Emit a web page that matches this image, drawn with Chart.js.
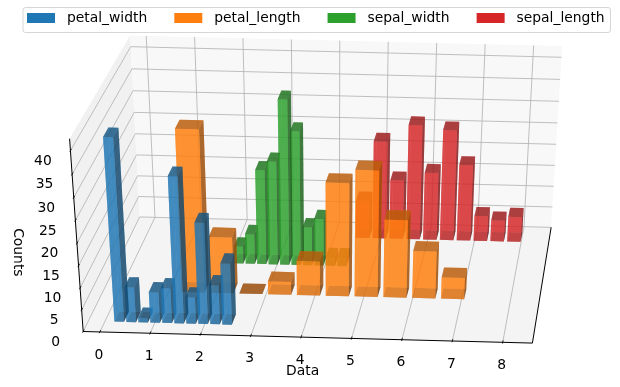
<!DOCTYPE html>
<html><head><meta charset="utf-8">
<style>html,body{margin:0;padding:0;background:#fff}canvas{display:block}</style>
<script src="https://cdn.jsdelivr.net/npm/chart.js@4/dist/chart.umd.min.js"></script>
</head><body><canvas id="c" width="620" height="387"></canvas>
<script>
// ---- data ----
const seriesNames = ['petal_width','petal_length','sepal_width','sepal_length'];
const seriesColors = ['#1f77b4','#ff7f0e','#2ca02c','#d62728'];
const petalWidthBins  = [0.19,0.43,0.67,0.91,1.15,1.39,1.63,1.87,2.11,2.35];
const petalWidthCounts= [41,8,1,7,8,33,6,23,9,14];
const petalLengthBins = [1.27,1.86,2.45,3.04,3.63,4.22,4.81,5.40,5.99,6.58];
const petalLengthCounts=[37,13,0,3,8,26,29,18,11,5];
const sepalWidthBins  = [2.1,2.34,2.58,2.82,3.06,3.3,3.54,3.78,4.02,4.26];
const sepalWidthCounts= [4,7,22,24,38,31,9,11,2,2];
const sepalLengthBins = [4.46,4.82,5.18,5.54,5.90,6.26,6.62,6.98,7.34,7.70];
const sepalLengthCounts=[9,23,14,27,16,26,18,6,5,6];
const seriesBins = [petalWidthBins,petalLengthBins,sepalWidthBins,sepalLengthBins];
const seriesCounts = [petalWidthCounts,petalLengthCounts,sepalWidthCounts,sepalLengthCounts];
const seriesDepths = [0,1,2,3];
const barWidths = [0.192,0.472,0.192,0.288];
const xTickLabels = [0,1,2,3,4,5,6,7,8];
const zTickLabels = [0,5,10,15,20,25,30,35,40];
const xTitle = 'Data', zTitle = 'Counts';

// ---- view: where the unit box of the 3D axes lands on the page ----
const BOX = [
  [0,0,0, 83.3,331.7,4],[1,0,0, 532.3,343,3],[1,1,0, 551.3,227.7,2],[0,1,0, 139.3,216,2],
  [0,0,1, 69.5,138.5,3],[0,1,1, 130.7,38.3,1],[1,1,1, 562.3,46,2]
];
const X_RANGE=[-0.332,8.588], Z_RANGE=[0,42.5], DEPTH_RANGE=[-0.33,3.55], BAR_DEPTH=0.33, ALPHA=0.6;
const SHADE={front:1,left:1,back:1,top:0.62,bottom:0.52,right:0.45};

function solveCamera(pts){
  const S=500,n=11;
  let p=null;
  for(let iter=0;iter<8;iter++){
    const A=[],b=[];
    for(const [X,Y,Z,px,py,wt] of pts){
      const u=px/S,v=py/S;
      const w=p?(p[8]*X+p[9]*Y+p[10]*Z+1):1,k=wt/w;
      A.push([X,Y,Z,1,0,0,0,0,-u*X,-u*Y,-u*Z].map(a=>a*k)); b.push(u*k);
      A.push([0,0,0,0,X,Y,Z,1,-v*X,-v*Y,-v*Z].map(a=>a*k)); b.push(v*k);
    }
    const M=[];
    for(let i=0;i<n;i++){M.push(new Array(n+1).fill(0));
      for(let j=0;j<n;j++)for(let r=0;r<A.length;r++)M[i][j]+=A[r][i]*A[r][j];
      for(let r=0;r<A.length;r++)M[i][n]+=A[r][i]*b[r];}
    for(let i=0;i<n;i++){let q=i;for(let r=i+1;r<n;r++)if(Math.abs(M[r][i])>Math.abs(M[q][i]))q=r;
      [M[i],M[q]]=[M[q],M[i]];
      for(let r=0;r<n;r++)if(r!==i){const f=M[r][i]/M[i][i];for(let c=i;c<=n;c++)M[r][c]-=f*M[i][c];}}
    p=M.map((row,i)=>row[n]/row[i]);
  }
  return (X,Y,Z)=>{const w=p[8]*X+p[9]*Y+p[10]*Z+1;
    return {x:S*(p[0]*X+p[1]*Y+p[2]*Z+p[3])/w,y:S*(p[4]*X+p[5]*Y+p[6]*Z+p[7])/w,w};};
}
const camera=solveCamera(BOX);
const farSign=Math.sign(camera(0,1,0).w-camera(0,0,0).w)||1;

// values -> unit box, through the chart's scales
function toUnit(chart,xv,dv,zv){
  const {x:sx,y:sy,depth:sd}=chart.scales;
  return [(sx.getPixelForValue(xv)-sx.left)/sx.width,
          (sd.getPixelForValue(dv)-sd.left)/sd.width,
          (sy.bottom-sy.getPixelForValue(zv))/sy.height];
}
function proj(chart,xv,dv,zv){const u=toUnit(chart,xv,dv,zv);return camera(u[0],u[1],u[2]);}
function rgb(hex){return [1,3,5].map(i=>parseInt(hex.substr(i,2),16));}

class Bar3DController extends Chart.BarController{
  draw(){
    const chart=this.chart,ctx=chart.ctx,ds=this.getDataset(),meta=this.getMeta();
    const c=rgb(ds.baseColor),faces=[];
    for(let i=0;i<meta.data.length;i++){
      const p=this.getParsed(i),x0=p.x,x1=p.x+ds.barWidth,d0=ds.depth,d1=ds.depth+BAR_DEPTH,z0=0,z1=p.y;
      const add=(name,q)=>{const v=q.map(a=>proj(chart,a[0],a[1],a[2]));
        faces.push({name,v,w:v.reduce((s,a)=>s+a.w,0)/4*farSign});};
      add('bottom',[[x0,d0,z0],[x1,d0,z0],[x1,d1,z0],[x0,d1,z0]]);
      add('top',[[x0,d0,z1],[x1,d0,z1],[x1,d1,z1],[x0,d1,z1]]);
      add('front',[[x0,d0,z0],[x1,d0,z0],[x1,d0,z1],[x0,d0,z1]]);
      add('back',[[x0,d1,z0],[x1,d1,z0],[x1,d1,z1],[x0,d1,z1]]);
      add('left',[[x0,d0,z0],[x0,d1,z0],[x0,d1,z1],[x0,d0,z1]]);
      add('right',[[x1,d0,z0],[x1,d1,z0],[x1,d1,z1],[x1,d0,z1]]);
    }
    faces.sort((a,b)=>b.w-a.w);
    ctx.save();
    for(const f of faces){
      const k=SHADE[f.name];
      ctx.fillStyle=`rgba(${c[0]*k},${c[1]*k},${c[2]*k},${ALPHA})`;
      ctx.beginPath();f.v.forEach((a,i)=>i?ctx.lineTo(a.x,a.y):ctx.moveTo(a.x,a.y));ctx.closePath();ctx.fill();
    }
    ctx.restore();
  }
}
Bar3DController.id='bar3d';
Bar3DController.defaults=Chart.BarController.defaults;
Chart.register(Bar3DController);

const FONT='"DejaVu Sans"',FS=13.89;
function poly(ctx,pts,fill){ctx.fillStyle=fill;ctx.beginPath();pts.forEach((a,i)=>i?ctx.lineTo(a.x,a.y):ctx.moveTo(a.x,a.y));ctx.closePath();ctx.fill();}
function seg(ctx,a,b,col,lw){ctx.strokeStyle=col;ctx.lineWidth=lw;ctx.beginPath();ctx.moveTo(a.x,a.y);ctx.lineTo(b.x,b.y);ctx.stroke();}

const axes3D={id:'axes3D',
  beforeDraw(chart){
    const ctx=chart.ctx;ctx.save();
    ctx.fillStyle='#fff';ctx.fillRect(0,0,chart.width,chart.height);
    ctx.strokeStyle='rgba(204,204,204,0.8)';ctx.lineWidth=1;
    ctx.beginPath();ctx.roundRect(23,7.5,587.5,25,2.5);ctx.stroke();
    ctx.restore();
  },
  beforeDatasetsDraw(chart){
    const ctx=chart.ctx;ctx.save();
    const [x0,x1]=X_RANGE,[d0,d1]=DEPTH_RANGE,[z0,z1]=Z_RANGE;
    const P=(a,b,c)=>proj(chart,a,b,c);
    poly(ctx,[P(x0,d0,z0),P(x0,d1,z0),P(x0,d1,z1),P(x0,d0,z1)],'#f1f1f1');
    poly(ctx,[P(x0,d1,z0),P(x1,d1,z0),P(x1,d1,z1),P(x0,d1,z1)],'#f8f8f8');
    poly(ctx,[P(x0,d0,z0),P(x1,d0,z0),P(x1,d1,z0),P(x0,d1,z0)],'#f4f4f4');
    const G='#b0b0b0';
    for(const t of xTickLabels){
      seg(ctx,P(t,d0,z0),P(t,d1,z0),G,0.8);
      seg(ctx,P(t,d1,z0),P(t,d1,z1),G,0.8);
    }
    for(const t of zTickLabels){
      seg(ctx,P(x0,d0,t),P(x0,d1,t),G,0.8);
      seg(ctx,P(x0,d1,t),P(x1,d1,t),G,0.8);
    }
    seg(ctx,P(x0,d0,z0),P(x1,d0,z0),'#000',1);
    seg(ctx,P(x1,d0,z0),P(x1,d1,z0),'#000',1);
    seg(ctx,P(x0,d0,z0),P(x0,d0,z1),'#000',1);
    for(const t of xTickLabels) seg(ctx,P(t,d0+0.06,z0),P(t,d0-0.04,z0),'#000',0.8);
    for(const t of zTickLabels) seg(ctx,P(x0,d0+0.06,t),P(x0,d0-0.04,t),'#000',0.8);
    ctx.fillStyle='#000';ctx.font=`${FS}px ${FONT}`;ctx.textAlign='center';ctx.textBaseline='middle';
    for(const t of xTickLabels){const a=P(t,d0,z0);ctx.fillText(String(t),a.x-1,a.y+23);}
    for(const t of zTickLabels){const a=P(x0,d0,t);ctx.fillText(String(t),a.x-27.5,a.y+10.5);}
    const lx=P(4,d0,z0);
    ctx.fillText(xTitle,lx.x+1.5,lx.y+34.5);
    const lz=P(x0,d0,20);
    ctx.save();ctx.translate(lz.x-59,lz.y+9);ctx.rotate(Math.PI/2);ctx.fillText(zTitle,0,0);ctx.restore();
    ctx.restore();
  }
};

function swatch(color){
  const cv=document.createElement('canvas');cv.width=50;cv.height=10;
  const g=cv.getContext('2d');g.fillStyle=color;g.fillRect(17,0,28,10);return cv;
}

new Chart(document.getElementById('c'),{
  type:'bar3d',
  data:{datasets:seriesNames.map((n,i)=>({
    label:n,baseColor:seriesColors[i],barWidth:barWidths[i],depth:seriesDepths[i],clip:false,
    data:seriesBins[i].map((x,k)=>({x,y:seriesCounts[i][k]}))
  }))},
  options:{
    responsive:false,animation:false,
    layout:{padding:{top:1}},
    events:[],
    scales:{
      x:{type:'linear',display:false,offset:false,min:X_RANGE[0],max:X_RANGE[1]},
      y:{type:'linear',display:false,offset:false,min:Z_RANGE[0],max:Z_RANGE[1]},
      depth:{type:'linear',axis:'x',display:false,offset:false,min:DEPTH_RANGE[0],max:DEPTH_RANGE[1]}
    },
    plugins:{
      tooltip:{enabled:false},title:{display:false},
      legend:{display:true,position:'top',align:'start',
        labels:{usePointStyle:true,pointStyleWidth:50,boxHeight:10,padding:10,color:'#000',
          font:{family:FONT,size:FS},
          generateLabels(){return seriesNames.map((n,i)=>({text:n,pointStyle:swatch(seriesColors[i]),fontColor:'#000',datasetIndex:i,hidden:false,lineWidth:0,strokeStyle:'rgba(0,0,0,0)',fillStyle:seriesColors[i]}));}
        }
      }
    }
  },
  plugins:[axes3D]
});
</script></body></html>
